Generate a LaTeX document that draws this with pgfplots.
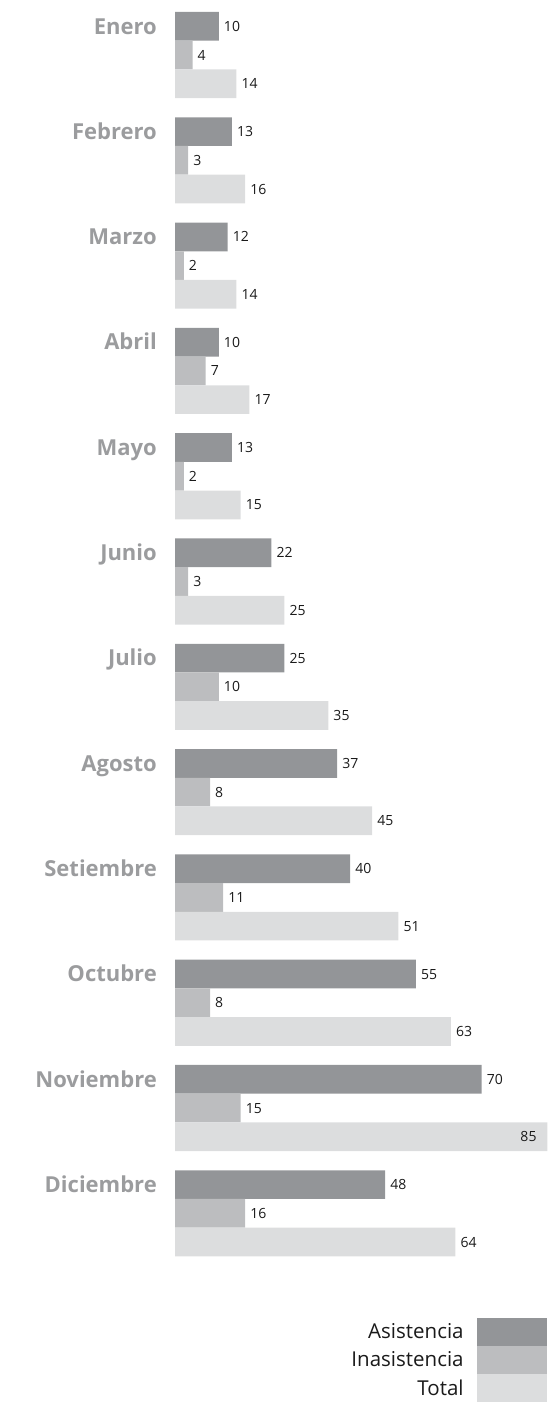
\documentclass[border=0pt]{standalone}
\usepackage{pgfplots}
\pgfplotsset{compat=1.18}
\usepackage{pgfplotstable}
\usepackage{fontspec}
\setmainfont{Open Sans}

\definecolor{asis}{RGB}{147,149,152}
\definecolor{inas}{RGB}{188,189,191}
\definecolor{tot}{RGB}{220,221,222}
\definecolor{mes}{RGB}{155,156,158}
\definecolor{txt}{RGB}{26,26,26}

\pgfplotstableread{
idx asis inas total
0  10  4 14
1  13  3 16
2  12  2 14
3  10  7 17
4  13  2 15
5  22  3 25
6  25 10 35
7  37  8 45
8  40 11 51
9  55  8 63
10 70 15 85
11 48 16 64
}\datos

\begin{document}
\begin{tikzpicture}
\path[use as bounding box] (0,0) rectangle (550pt,-1424pt);
\begin{axis}[
  scale only axis,
  anchor=north west, at={(175pt,-2.35pt)},
  width=372.3pt, height=1263.6pt,
  xmin=0, xmax=85, ymin=-0.5, ymax=11.5,
  y dir=reverse,
  xbar, bar width=28.7pt,
  axis line style={draw=none},
  major tick length=0pt,
  xtick=\empty,
  ytick={0,...,11},
  yticklabels={Enero,Febrero,Marzo,Abril,Mayo,Junio,Julio,Agosto,Setiembre,Octubre,Noviembre,Diciembre},
  yticklabel style={font=\fontsize{22}{26}\selectfont\bfseries, text=mes,
    anchor=east, inner sep=0pt, text height=15.5pt, text depth=0pt,
    xshift=-18pt, yshift=28.7pt},
  /pgf/number format/assume math mode=true,
  nodes near coords,
  every node near coord/.append style={font=\fontsize{14}{16}\selectfont, text=txt,
    anchor=west, inner ysep=0pt, inner xsep=5pt, text height=10pt, text depth=0pt},
  legend cell align=right,
  legend plot pos=right,
  legend image code/.code={\fill[#1] (0pt,-14pt) rectangle (70.5pt,14pt);},
  legend style={draw=none, fill=none, at={(1,0)}, anchor=north east, yshift=-52pt,
    inner sep=0pt, row sep=0pt, column sep=0pt,
    font=\fontsize{20.5}{24}\selectfont, text=txt,
    nodes={inner sep=0pt, inner xsep=13pt}},
]
\addplot[draw=none, fill=asis, bar shift=28.7pt] table[x=asis, y=idx] {\datos};
\addplot[draw=none, fill=inas, bar shift=0pt] table[x=inas, y=idx] {\datos};
\addplot[draw=none, fill=tot, bar shift=-28.7pt,
  visualization depends on={\thisrow{total} \as \tv},
  every node near coord/.append style={xshift={(\tv>80)*(-32pt)}}]
  table[x=total, y=idx] {\datos};
\legend{Asistencia,Inasistencia,Total}
\end{axis}
\end{tikzpicture}
\end{document}
